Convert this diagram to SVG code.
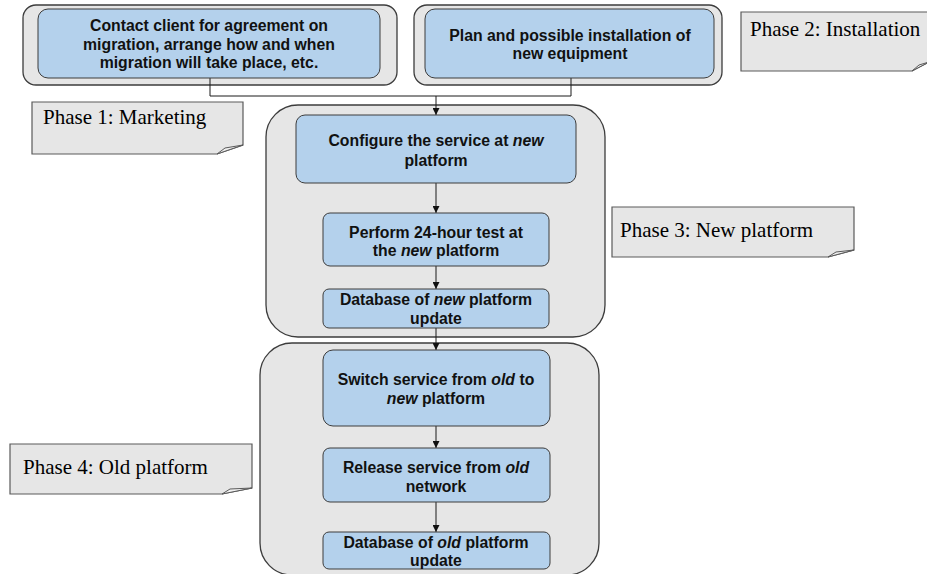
<svg xmlns="http://www.w3.org/2000/svg" width="927" height="574" viewBox="0 0 927 574">
  <defs>
    <marker id="arrow" viewBox="0 0 10 10" refX="10" refY="5" markerWidth="7" markerHeight="7" markerUnits="userSpaceOnUse" orient="auto">
      <path d="M0,0 L10,5 L0,10 Z" fill="#111"/>
    </marker>
    <style>
      .phase { fill: #e6e6e6; stroke: #3c3c3c; stroke-width: 1.3; }
      .step { fill: #b4d1ec; stroke: #3c3c3c; stroke-width: 1; }
      .note { fill: #e6e6e6; stroke: #5a5a5a; stroke-width: 1.2; }
      .fold { fill: #f0f0f0; stroke: #5a5a5a; stroke-width: 1; }
      .lbl { font-family: "Liberation Sans", Arial, sans-serif; font-weight: bold; font-size: 15.8px; fill: #111; text-anchor: middle; }
      .ph { font-family: "Liberation Serif", "Times New Roman", serif; font-size: 21px; fill: #000; }
      .wire { fill: none; stroke: #1a1a1a; stroke-width: 1; }
    </style>
  </defs>

  <!-- phase containers -->
  <g id="phase1">
    <rect class="phase" x="23" y="5" width="374" height="80" rx="13"/>
  </g>
  <g id="phase2">
    <rect class="phase" x="414" y="5" width="308" height="80" rx="13"/>
  </g>
  <g id="phase3">
    <rect class="phase" x="266" y="105" width="339" height="232" rx="32"/>
  </g>
  <g id="phase4">
    <rect class="phase" x="260" y="343" width="339" height="232" rx="32"/>
  </g>

  <!-- connectors -->
  <g id="connectors">
    <polyline class="wire" points="210,78 210,96 571,96 571,78"/>
    <line class="wire" x1="436" y1="96" x2="436" y2="115" marker-end="url(#arrow)"/>
    <line class="wire" x1="436" y1="183" x2="436" y2="213" marker-end="url(#arrow)"/>
    <line class="wire" x1="436" y1="266" x2="436" y2="289" marker-end="url(#arrow)"/>
    <line class="wire" x1="436" y1="328" x2="436" y2="350" marker-end="url(#arrow)"/>
    <line class="wire" x1="436" y1="426" x2="436" y2="448" marker-end="url(#arrow)"/>
    <line class="wire" x1="436" y1="502" x2="436" y2="532" marker-end="url(#arrow)"/>
  </g>

  <!-- steps -->
  <g id="contact-client">
    <rect class="step" x="38" y="9" width="342" height="69" rx="10"/>
    <text class="lbl" x="209" y="31">Contact client for agreement on</text>
    <text class="lbl" x="209" y="49.5">migration, arrange how and when</text>
    <text class="lbl" x="209" y="68">migration will take place, etc.</text>
  </g>
  <g id="plan-installation">
    <rect class="step" x="425" y="9" width="289" height="69" rx="10"/>
    <text class="lbl" x="570" y="41">Plan and possible installation of</text>
    <text class="lbl" x="570" y="59">new equipment</text>
  </g>
  <g id="configure">
    <rect class="step" x="296" y="115" width="280" height="68" rx="9"/>
    <text class="lbl" x="436" y="146">Configure the service at <tspan font-style="italic">new</tspan></text>
    <text class="lbl" x="436" y="166">platform</text>
  </g>
  <g id="test">
    <rect class="step" x="323" y="213" width="226" height="53" rx="7"/>
    <text class="lbl" x="436" y="238">Perform 24-hour test at</text>
    <text class="lbl" x="436" y="256">the <tspan font-style="italic">new</tspan> platform</text>
  </g>
  <g id="db-new">
    <rect class="step" x="323" y="289" width="226" height="39" rx="6"/>
    <text class="lbl" x="436" y="305">Database of <tspan font-style="italic">new</tspan> platform</text>
    <text class="lbl" x="436" y="324">update</text>
  </g>
  <g id="switch">
    <rect class="step" x="323" y="350" width="227" height="76" rx="10"/>
    <text class="lbl" x="436" y="385">Switch service from <tspan font-style="italic">old</tspan> to</text>
    <text class="lbl" x="436" y="404"><tspan font-style="italic">new</tspan> platform</text>
  </g>
  <g id="release">
    <rect class="step" x="323" y="448" width="227" height="54" rx="7"/>
    <text class="lbl" x="436" y="473">Release service from <tspan font-style="italic">old</tspan></text>
    <text class="lbl" x="436" y="492">network</text>
  </g>
  <g id="db-old">
    <rect class="step" x="323" y="532" width="227" height="37" rx="6"/>
    <text class="lbl" x="436" y="548">Database of <tspan font-style="italic">old</tspan> platform</text>
    <text class="lbl" x="436" y="566">update</text>
  </g>

  <!-- phase notes -->
  <g id="note-phase1">
    <path class="note" d="M32,102 H243 V145 L217,154 H32 Z"/>
    <path class="fold" d="M217,154 L225,148 L243,145 Z"/>
    <text class="ph" x="43" y="124">Phase 1: Marketing</text>
  </g>
  <g id="note-phase2">
    <path class="note" d="M741,12 H929 V62 L912,71 H741 Z"/>
    <path class="fold" d="M912,71 L919,65 L929,62 Z"/>
    <text class="ph" x="750" y="36">Phase 2: Installation</text>
  </g>
  <g id="note-phase3">
    <path class="note" d="M612,207 H854 V250 L828,257 H612 Z"/>
    <path class="fold" d="M828,257 L836,252 L854,250 Z"/>
    <text class="ph" x="620" y="237">Phase 3: New platform</text>
  </g>
  <g id="note-phase4">
    <path class="note" d="M10,444 H252 V488 L222,494 H10 Z"/>
    <path class="fold" d="M222,494 L230,489 L252,488 Z"/>
    <text class="ph" x="23" y="474">Phase 4: Old platform</text>
  </g>
</svg>
